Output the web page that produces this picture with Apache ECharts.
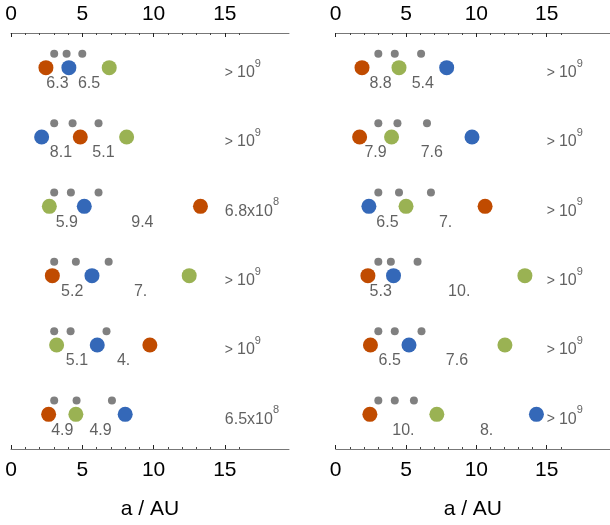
<!DOCTYPE html>
<html>
<head>
<meta charset="utf-8">
<script src="https://cdn.jsdelivr.net/npm/echarts@6/dist/echarts.min.js"></script>
<style>
html,body{margin:0;padding:0;background:#fff;}
#chart{width:610px;height:525px;}
</style>
</head>
<body>
<div id="chart"></div>
<script>
// ---- data ----
const tickLabels = [0, 5, 10, 15];
const minorTicks = [1, 2, 3, 4, 6, 7, 8, 9, 11, 12, 13, 14, 16];
const axisTitle = 'a / AU';

// left panel (rows top to bottom)
const leftOrange = [2.45, 4.86, 13.29, 2.9, 9.74, 2.64];
const leftBlue   = [4.06, 2.15, 5.14, 5.68, 6.05, 8.01];
const leftGreen  = [6.89, 8.11, 2.69, 12.5, 3.2, 4.55];
const leftGrey   = [[3.03, 3.9, 5.0], [3.03, 4.32, 6.14], [3.03, 4.2, 6.14], [3.03, 4.55, 6.85], [3.03, 4.18, 6.7], [3.03, 4.6, 7.08]];
const leftGaps   = [['6.3', '6.5'], ['8.1', '5.1'], ['5.9', '9.4'], ['5.2', '7.'], ['5.1', '4.'], ['4.9', '4.9']];
const leftLifeMantissa = [null, null, '6.8', null, null, '6.5'];
const leftLifeExp      = [9, 9, 8, 9, 9, 8];

// right panel
const rightOrange = [1.87, 1.7, 10.62, 2.29, 2.47, 2.43];
const rightBlue   = [7.89, 9.69, 2.36, 4.11, 5.21, 14.27];
const rightGreen  = [4.5, 3.97, 5.0, 13.45, 12.03, 7.19];
const rightGrey   = [[3.03, 4.2, 6.07], [3.03, 4.39, 6.49], [3.03, 4.5, 6.77], [3.03, 3.92, 5.82], [3.03, 4.2, 6.1], [3.03, 4.2, 5.56]];
const rightGaps   = [['8.8', '5.4'], ['7.9', '7.6'], ['6.5', '7.'], ['5.3', '10.'], ['6.5', '7.6'], ['10.', '8.']];
const rightLifeMantissa = [null, null, null, null, null, null];
const rightLifeExp      = [9, 9, 9, 9, 9, 9];

const lifeLabelX = 15;

// ---- styling ----
const C_ORANGE = '#C04B00', C_BLUE = '#3468B8', C_GREEN = '#9AB253', C_GREY = '#808080';
const FONT = '"Liberation Sans", Arial, Helvetica, sans-serif';
const TXT = '#3a3a3a';
const GREY_OFFSET = -0.2;   // grey dots drawn above the row
const ROW_CENTER = 0.5;

const chart = echarts.init(document.getElementById('chart'), null, {renderer: 'canvas'});

const grids = [
  {left: 11, top: 33, width: 278, height: 416},
  {left: 335.7, top: 33, width: 278, height: 416}
];

function makeXAxes(g) {
  const base = {type: 'value', gridIndex: g, min: 0, max: 19.5};
  return [
    Object.assign({}, base, {
      position: 'bottom',
      axisLine: {show: true, onZero: false, lineStyle: {color: '#777', width: 1}},
      axisTick: {show: true, inside: true, length: 4, customValues: tickLabels, lineStyle: {color: '#222'}},
      axisLabel: {show: true, customValues: tickLabels, fontSize: 21, color: '#000', fontFamily: FONT, margin: 11},
      splitLine: {show: false},
      name: axisTitle, nameLocation: 'middle', nameGap: 50,
      nameTextStyle: {fontSize: 21, color: '#000', fontFamily: FONT}
    }),
    Object.assign({}, base, {
      position: 'top',
      axisLine: {show: true, onZero: false, lineStyle: {color: '#777', width: 1}},
      axisTick: {show: true, inside: true, length: 4, customValues: tickLabels, lineStyle: {color: '#222'}},
      axisLabel: {show: true, customValues: tickLabels, fontSize: 21, color: '#000', fontFamily: FONT, margin: 8},
      splitLine: {show: false}
    }),
    Object.assign({}, base, {
      position: 'bottom',
      axisLine: {show: false, onZero: false},
      axisTick: {show: true, inside: true, length: 2, customValues: minorTicks, lineStyle: {color: '#444'}},
      axisLabel: {show: false},
      splitLine: {show: false}
    }),
    Object.assign({}, base, {
      position: 'top',
      axisLine: {show: false, onZero: false},
      axisTick: {show: true, inside: true, length: 2, customValues: minorTicks, lineStyle: {color: '#444'}},
      axisLabel: {show: false},
      splitLine: {show: false}
    })
  ];
}

function panelSeries(g, orange, blue, green, grey, gaps, mant, exps) {
  const xi = g * 4, yi = g;
  const series = [];
  // grey initial-position dots
  const greyData = [];
  grey.forEach((row, r) => row.forEach(x => greyData.push([x, r + ROW_CENTER + GREY_OFFSET])));
  series.push({type: 'scatter', xAxisIndex: xi, yAxisIndex: yi, symbolSize: 8, silent: true,
    itemStyle: {color: C_GREY, opacity: 1}, data: greyData, z: 3});

  // gap labels at midpoints between neighbouring planets
  const gapData = [];
  for (let r = 0; r < orange.length; r++) {
    const xs = [orange[r], blue[r], green[r]].sort((a, b) => a - b);
    gapData.push({value: [(xs[0] + xs[1]) / 2, r + ROW_CENTER], name: gaps[r][0]});
    gapData.push({value: [(xs[1] + xs[2]) / 2, r + ROW_CENTER], name: gaps[r][1]});
  }
  series.push({type: 'scatter', xAxisIndex: xi, yAxisIndex: yi, symbolSize: 0, silent: true, data: gapData, z: 2,
    label: {show: true, position: 'inside', offset: [0, 16], formatter: p => p.name,
      fontSize: 16, color: TXT, fontFamily: FONT}});

  // lifetime labels
  const lifeData = [];
  for (let r = 0; r < orange.length; r++) {
    lifeData.push({value: [lifeLabelX, r + ROW_CENTER], name: String(r)});
  }
  series.push({type: 'scatter', xAxisIndex: xi, yAxisIndex: yi, symbolSize: 0, silent: true, data: lifeData, z: 2,
    label: {show: true, position: 'inside', align: 'left', offset: [0, 5],
      formatter: p => {
        const r = +p.name;
        return mant[r] != null ? `{b|${mant[r]}x10}{s|${exps[r]}}` : `{g|>}{b|10}{s|${exps[r]}}`;
      },
      rich: {
        b: {fontSize: 16, color: TXT, fontFamily: FONT, lineHeight: 29, verticalAlign: 'middle'},
        g: {fontSize: 14, color: TXT, fontFamily: FONT, lineHeight: 29, verticalAlign: 'middle', padding: [0, 4, 0, 0]},
        s: {fontSize: 11, color: TXT, fontFamily: FONT, lineHeight: 12, verticalAlign: 'top'}
      }}});

  // planets
  [[orange, C_ORANGE], [blue, C_BLUE], [green, C_GREEN]].forEach(([arr, col]) => {
    series.push({type: 'scatter', xAxisIndex: xi, yAxisIndex: yi, symbolSize: 15, silent: true, z: 5,
      itemStyle: {color: col, opacity: 1},
      data: arr.map((x, r) => [x, r + ROW_CENTER])});
  });
  return series;
}

const option = {
  backgroundColor: '#fff',
  animation: false,
  grid: grids,
  xAxis: [].concat(makeXAxes(0), makeXAxes(1)),
  yAxis: [0, 1].map(g => ({type: 'value', gridIndex: g, min: 0, max: 6, inverse: true, show: false})),
  series: [].concat(
    panelSeries(0, leftOrange, leftBlue, leftGreen, leftGrey, leftGaps, leftLifeMantissa, leftLifeExp),
    panelSeries(1, rightOrange, rightBlue, rightGreen, rightGrey, rightGaps, rightLifeMantissa, rightLifeExp)
  )
};
chart.setOption(option);
</script>
</body>
</html>
